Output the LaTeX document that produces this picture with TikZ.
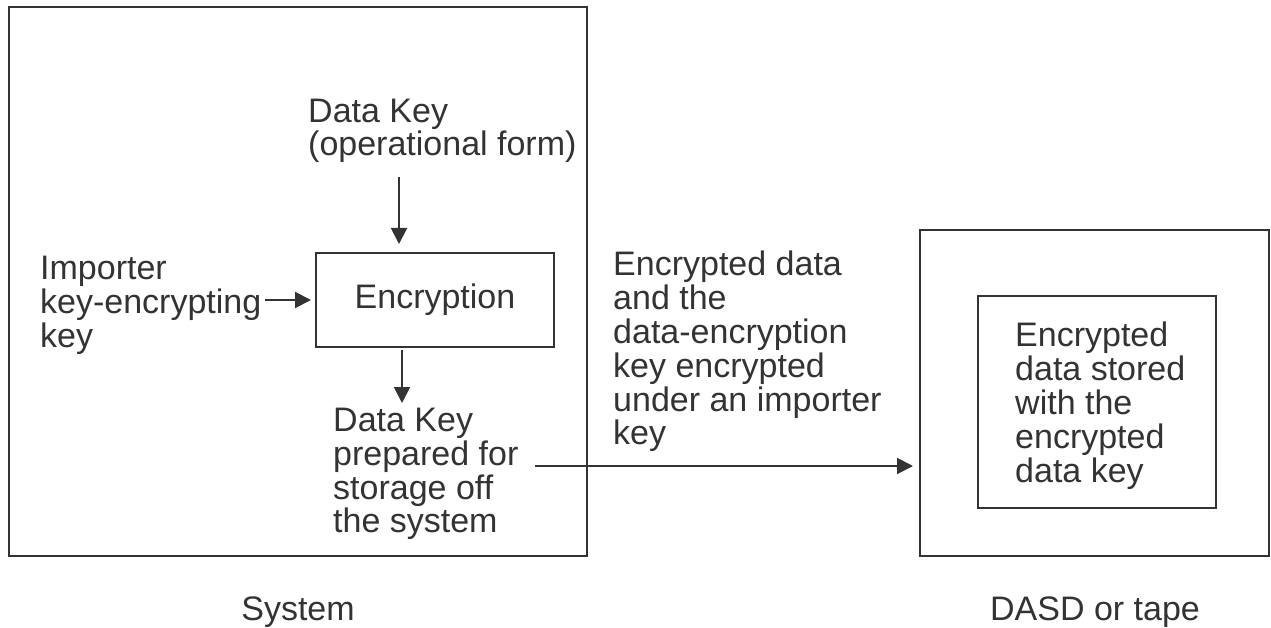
\documentclass[tikz,border=0pt]{standalone}
\usepackage{fontspec}
\setmainfont{Liberation Sans}
\usetikzlibrary{arrows.meta}
\definecolor{ink}{HTML}{333333}
\begin{document}
\begin{tikzpicture}[x=1pt,y=-1pt,
  box/.style={draw=ink, line width=2.2pt, inner sep=0pt, outer sep=0pt},
  lbl/.style={text=ink, font=\fontsize{34}{33.8}\selectfont, align=left, inner sep=0pt, anchor=north west},
  undercap/.style={text=ink, font=\fontsize{34}{33.8}\selectfont, inner sep=0pt, anchor=base},
  arr/.style={draw=ink, line width=2pt, -{Triangle[length=16pt,width=16pt]}}]
\useasboundingbox (0,0) rectangle (1271,628);
% boxes
\node[box, minimum width=578pt, minimum height=549pt] (sys) at (298,281.5) {};
\node[box, minimum width=349pt, minimum height=326pt] (dasd) at (1094.5,393) {};
\node[box, minimum width=238pt, minimum height=212pt] (inner) at (1097,402) {};
\node[box, minimum width=238pt, minimum height=94pt, text=ink, font=\fontsize{34}{33.8}\selectfont] (enc) at (435,300) {Encryption};
% labels
\node[lbl] (dk) at (308,98.5) {Data Key\\(operational form)};
\node[lbl] (imp) at (40,256) {Importer\\key-encrypting\\key};
\node[lbl] (out) at (333,408) {Data Key\\prepared for\\storage off\\the system};
\node[lbl] (mid) at (613,251) {Encrypted data\\and the\\data-encryption\\key encrypted\\under an importer\\key};
\node[lbl] (stored) at (1015,322) {Encrypted\\data stored\\with the\\encrypted\\data key};
\node[undercap] (syslbl) at (298,620) {System};
\node[undercap] (dasdlbl) at (1095,620) {DASD or tape};
% connectors
\coordinate (dkA) at (399,177);
\draw[arr, shorten >=9pt] (dkA) -- (dkA |- enc.north);
\draw[arr, shorten >=5pt] ([xshift=3pt]imp.east |- enc.west) -- (enc.west);
\coordinate (encOut) at (402,403);
\draw[arr, shorten <=3pt] (enc.south -| encOut) -- (encOut);
\coordinate (outA) at (535,466);
\draw[arr, shorten >=7pt] (outA) -- (outA -| dasd.west);
\end{tikzpicture}
\end{document}
